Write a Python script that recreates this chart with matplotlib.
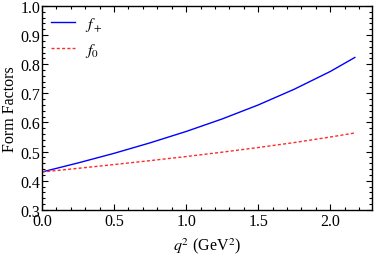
import matplotlib
matplotlib.use('Agg')
import matplotlib.pyplot as plt
from matplotlib.ticker import MultipleLocator

# values
q2 = [0.0, 0.25, 0.5, 0.75, 1.0, 1.25, 1.5, 1.75, 2.0, 2.17]
f_plus = [0.430, 0.461, 0.494, 0.530, 0.569, 0.612, 0.660, 0.714, 0.775, 0.823]
f_zero = [0.430, 0.4425, 0.4555, 0.469, 0.483, 0.498, 0.514, 0.531, 0.550, 0.564]

plt.rcParams['font.family'] = ['Liberation Serif', 'DejaVu Serif']
plt.rcParams['mathtext.fontset'] = 'stix'

fig = plt.figure(figsize=(3.74, 2.55), dpi=100)
ax = fig.add_axes([0.112, 0.173, 0.883, 0.80])

ax.plot(q2, f_plus, color='blue', lw=1.0, label=r'$f_+$')
ax.plot(q2, f_zero, color='#ff2a2a', lw=1.0, ls=(0, (2.2, 1.6)), label=r'$f_0$')

ax.set_xlim(0.0, 2.29)
ax.set_ylim(0.3, 1.0)
ax.xaxis.set_major_locator(MultipleLocator(0.5))
ax.xaxis.set_minor_locator(MultipleLocator(0.1))
ax.yaxis.set_major_locator(MultipleLocator(0.1))
ax.yaxis.set_minor_locator(MultipleLocator(0.02))
ax.xaxis.set_major_formatter(plt.FuncFormatter(lambda v, p: f'{v:.1f}'))
ax.yaxis.set_major_formatter(plt.FuncFormatter(lambda v, p: f'{v:.1f}'))

ax.tick_params(which='both', direction='in', top=True, right=True, labelsize=11.5, width=0.8)
ax.tick_params(which='major', length=4)
ax.tick_params(which='minor', length=2)
ax.tick_params(axis='x', pad=2.5)
ax.tick_params(axis='y', pad=1)
for s in ax.spines.values():
    s.set_linewidth(1.0)

ax.set_xlabel(r'$q^2$ (GeV$^2$)', fontsize=11.5, labelpad=4)
ax.set_ylabel('Form Factors', fontsize=11.5, labelpad=2)

ax.legend(loc='upper left', frameon=False, fontsize=11.5, handlelength=1.5,
          handletextpad=0.6, labelspacing=0.5, borderaxespad=0.2)

fig.savefig('out.png', dpi=100)
